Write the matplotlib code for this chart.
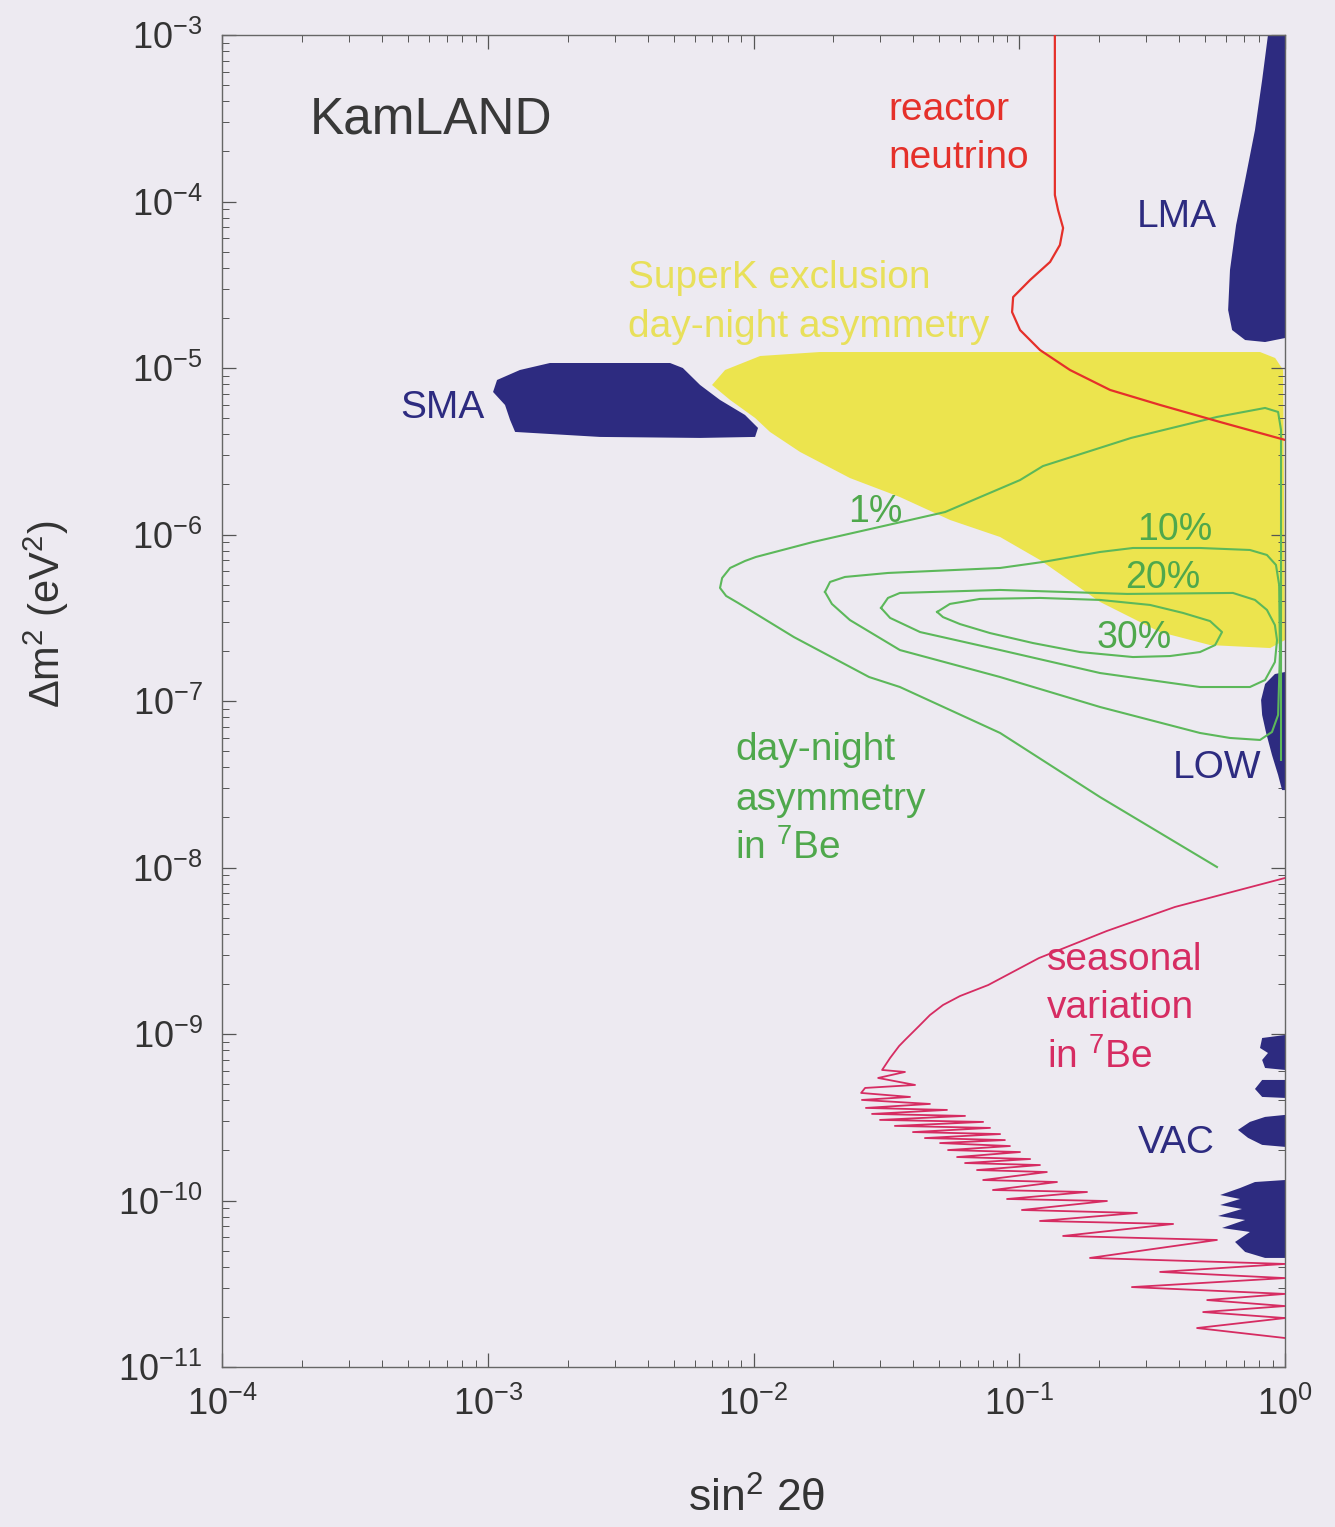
import numpy as np
import matplotlib
matplotlib.use('Agg')
import matplotlib.pyplot as plt
from matplotlib.ticker import LogLocator, FuncFormatter, NullFormatter

plt.rcParams['font.family'] = ['Liberation Sans', 'DejaVu Sans']
plt.rcParams['mathtext.default'] = 'regular'

# all region / curve values are log10(sin^2 2theta), log10(dm^2 / eV^2)
yellow_lx = [-2.156, -2.107, -1.975, -1.750, -0.094, -0.037, -0.007, 0.0, -0.056, -0.282, -0.470,
             -0.696, -0.922, -1.072, -1.260, -1.449, -1.637, -1.825, -1.938, -1.994, -2.088]
yellow_ly = [-5.102, -5.012, -4.928, -4.904, -4.904, -4.940, -5.012, -6.634, -6.682, -6.664, -6.586,
             -6.405, -6.153, -6.015, -5.913, -5.775, -5.661, -5.504, -5.384, -5.300, -5.192]

sma_lx = [-2.980, -2.965, -2.879, -2.766, -2.314, -2.266, -2.201, -2.126, -2.032, -1.983,
          -1.994, -2.201, -2.578, -2.897, -2.916, -2.935]
sma_ly = [-5.144, -5.072, -5.012, -4.970, -4.970, -5.000, -5.102, -5.192, -5.282, -5.360,
          -5.414, -5.420, -5.414, -5.384, -5.312, -5.222]

lma_lx = [-0.064, -0.086, -0.113, -0.150, -0.184, -0.207, -0.214, -0.199, -0.150, -0.075, 0.0, 0.0]
lma_ly = [-3.0, -3.270, -3.571, -3.871, -4.141, -4.411, -4.652, -4.772, -4.832, -4.844, -4.820, -3.0]

low_lx = [0.0, -0.038, -0.075, -0.090, -0.086, -0.071, -0.049, -0.026, -0.011, 0.0]
low_ly = [-6.826, -6.838, -6.898, -6.994, -7.084, -7.192, -7.324, -7.444, -7.535, -7.535]

vac_lx = [
    [0.0, -0.086, -0.094, -0.064, -0.086, -0.075, 0.0],
    [0.0, -0.086, -0.113, -0.086, 0.0],
    [0.0, -0.075, -0.132, -0.177, -0.139, -0.086, 0.0],
    [0.0, -0.113, -0.169, -0.244, -0.169, -0.244, -0.162, -0.252, -0.150, -0.237,
     -0.132, -0.188, -0.150, -0.075, 0.0],
]
vac_ly = [
    [-9.006, -9.024, -9.084, -9.114, -9.156, -9.204, -9.216],
    [-9.276, -9.276, -9.330, -9.378, -9.384],
    [-9.486, -9.498, -9.528, -9.576, -9.624, -9.666, -9.678],
    [-9.877, -9.889, -9.925, -9.967, -9.991, -10.027, -10.051, -10.093, -10.117, -10.165,
     -10.189, -10.249, -10.309, -10.345, -10.345],
]

# day-night asymmetry contours (1%, 10%, 20%, 30%)
dn1_lx = [-0.256, -0.696, -1.072, -1.449, -1.565, -1.848, -2.058, -2.103, -2.126, -2.118, -2.088,
          -2.032, -1.991, -1.776, -1.494, -1.279, -0.997, -0.911, -0.579, -0.256, -0.075, -0.026,
          -0.015, -0.015]
dn1_ly = [-7.997, -7.577, -7.192, -6.916, -6.856, -6.616, -6.411, -6.369, -6.321, -6.261, -6.201,
          -6.159, -6.135, -6.045, -5.943, -5.865, -5.673, -5.589, -5.420, -5.294, -5.240, -5.264,
          -5.372, -7.354]
dn10_lx = [-1.731, -1.712, -1.656, -1.494, -1.072, -0.911, -0.696, -0.572, -0.320, -0.132, -0.068,
           -0.034, -0.022, -0.019, -0.026, -0.049, -0.094, -0.207, -0.320, -0.696, -1.072, -1.449,
           -1.637, -1.705, -1.731]
dn10_ly = [-6.345, -6.285, -6.255, -6.231, -6.201, -6.165, -6.105, -6.081, -6.081, -6.093, -6.123,
           -6.183, -6.303, -6.712, -7.084, -7.186, -7.234, -7.222, -7.192, -7.036, -6.856, -6.694,
           -6.514, -6.417, -6.345]
dn20_lx = [-1.520, -1.494, -1.449, -1.072, -0.594, -0.196, -0.113, -0.068, -0.038, -0.030, -0.038,
           -0.075, -0.132, -0.320, -0.696, -1.072, -1.373, -1.486, -1.520]
dn20_ly = [-6.441, -6.381, -6.351, -6.333, -6.357, -6.351, -6.393, -6.453, -6.544, -6.634, -6.766,
           -6.874, -6.916, -6.916, -6.832, -6.694, -6.586, -6.501, -6.441]
dn30_lx = [-1.309, -1.261, -1.148, -0.922, -0.696, -0.508, -0.384, -0.282, -0.237, -0.263, -0.320,
           -0.433, -0.572, -0.771, -0.948, -1.110, -1.223, -1.287, -1.309]
dn30_ly = [-6.465, -6.417, -6.387, -6.381, -6.393, -6.423, -6.471, -6.520, -6.586, -6.664, -6.706,
           -6.730, -6.736, -6.706, -6.652, -6.592, -6.538, -6.496, -6.465]

reactor_lx = [-0.866, -0.866, -0.854, -0.835, -0.847, -0.884, -0.959, -1.023, -1.027, -0.997,
              -0.922, -0.809, -0.658, -0.470, -0.245, 0.0]
reactor_ly = [-3.0, -3.961, -4.051, -4.159, -4.261, -4.363, -4.471, -4.574, -4.664, -4.772,
              -4.892, -5.012, -5.132, -5.222, -5.324, -5.432]

seasonal_lx = [0.0, -0.414, -0.670, -0.926, -1.117, -1.223, -1.287, -1.336, -1.377, -1.430,
               -1.452, -1.486, -1.516, -1.430, -1.531, -1.392, -1.580, -1.595,
               -1.411, -1.592, -1.336, -1.577, -1.272, -1.554, -1.204, -1.524, -1.136, -1.468,
               -1.110, -1.400, -1.072, -1.355, -1.054, -1.298, -1.035, -1.268, -0.997, -1.234,
               -0.959, -1.204, -0.922, -1.159, -0.896, -1.136, -0.858, -1.099, -0.745, -1.046,
               -0.670, -0.990, -0.557, -0.922, -0.421, -0.835, -0.256, -0.734, 0.0, -0.470,
               0.0, -0.576, 0.0, -0.293, 0.0, -0.308, 0.0, -0.331, 0.0]
seasonal_ly = [-8.063, -8.237, -8.381, -8.544, -8.706, -8.772, -8.826, -8.886, -8.952, -9.036,
               -9.072, -9.144, -9.216, -9.228, -9.264, -9.306, -9.324, -9.354,
               -9.378, -9.396, -9.420, -9.444, -9.456, -9.480, -9.492, -9.516, -9.528, -9.552,
               -9.564, -9.589, -9.601, -9.625, -9.637, -9.655, -9.673, -9.697, -9.709, -9.739,
               -9.751, -9.775, -9.787, -9.817, -9.829, -9.877, -9.889, -9.937, -9.949, -9.991,
               -10.003, -10.057, -10.075, -10.123, -10.141, -10.213, -10.237, -10.345, -10.381, -10.429,
               -10.466, -10.520, -10.561, -10.598, -10.634, -10.670, -10.706, -10.766, -10.826]

bg = '#edeaf1'
navy = '#2d2b80'
yellow = '#ece44e'
green = '#5cb85a'
label_green = '#4fa84c'
red = '#e5302a'
crimson = '#d62c62'

def p10(a):
    return np.power(10.0, np.asarray(a))

fig = plt.figure(figsize=(13.35, 15.27), dpi=100)
fig.patch.set_facecolor(bg)
ax = fig.add_axes([222/1335, 1 - 1367/1527, 1063/1335, 1332/1527])
ax.set_facecolor(bg)
ax.set_xscale('log')
ax.set_yscale('log')
ax.set_xlim(1e-4, 1)
ax.set_ylim(1e-11, 1e-3)

ax.fill(p10(yellow_lx), p10(yellow_ly), color=yellow, lw=0, zorder=1)
ax.fill(p10(sma_lx), p10(sma_ly), color=navy, lw=0, zorder=2)
ax.fill(p10(lma_lx), p10(lma_ly), color=navy, lw=0, zorder=2)
ax.fill(p10(low_lx), p10(low_ly), color=navy, lw=0, zorder=2)
for bx, by in zip(vac_lx, vac_ly):
    ax.fill(p10(bx), p10(by), color=navy, lw=0, zorder=2)

for cx, cy in [(dn1_lx, dn1_ly), (dn10_lx, dn10_ly), (dn20_lx, dn20_ly), (dn30_lx, dn30_ly)]:
    ax.plot(p10(cx), p10(cy), color=green, lw=1.5, zorder=3, solid_joinstyle='round')

ax.plot(p10(reactor_lx), p10(reactor_ly), color=red, lw=1.6, zorder=4, solid_joinstyle='round')
ax.plot(p10(seasonal_lx), p10(seasonal_ly), color=crimson, lw=1.3, zorder=4)

# axes styling
for s in ax.spines.values():
    s.set_color('#666666')
    s.set_linewidth(1.0)
for a in (ax.xaxis, ax.yaxis):
    a.set_major_locator(LogLocator(base=10, numticks=20))
    a.set_minor_locator(LogLocator(base=10, subs=np.arange(2, 10), numticks=20))
    a.set_minor_formatter(NullFormatter())
    a.set_major_formatter(FuncFormatter(lambda v, pos: r'$10^{%d}$' % int(round(np.log10(v)))))
ax.tick_params(which='both', direction='in', top=True, right=True, color='#555555')
ax.tick_params(which='major', length=10, width=0.9, labelsize=26, labelcolor='#333333')
ax.tick_params(which='minor', length=5, width=0.7)
ax.tick_params(axis='x', pad=14)
ax.tick_params(axis='y', pad=14)

ax.set_xlabel(r'sin$^2$ 2$\theta$', fontsize=32, color='#333333')
ax.xaxis.set_label_coords(0.503, -0.083)
ax.set_ylabel(r'$\Delta$m$^2$ (eV$^2$)', fontsize=30, color='#333333')
ax.yaxis.set_label_coords(-0.142, 0.565)

T = ax.transAxes
ax.text(0.0828, 0.936, 'KamLAND', transform=T, fontsize=37, color='#383838', va='center', zorder=5)
ax.text(0.6265, 0.9437, 'reactor', transform=T, fontsize=28, color=red, va='center', zorder=5)
ax.text(0.6265, 0.9077, 'neutrino', transform=T, fontsize=28, color=red, va='center', zorder=5)
ax.text(0.8608, 0.8634, 'LMA', transform=T, fontsize=28, color=navy, va='center', zorder=5)
ax.text(0.3819, 0.8176, 'SuperK exclusion', transform=T, fontsize=28, color='#e8e05a', va='center', zorder=5)
ax.text(0.3819, 0.7808, 'day-night asymmetry', transform=T, fontsize=28, color='#e8e05a', va='center', zorder=5)
ax.text(0.1675, 0.7200, 'SMA', transform=T, fontsize=28, color=navy, va='center', zorder=5)
ax.text(0.5889, 0.6419, '1%', transform=T, fontsize=27, color=label_green, va='center', zorder=5)
ax.text(0.8608, 0.6284, '10%', transform=T, fontsize=27, color=label_green, va='center', zorder=5)
ax.text(0.8495, 0.5923, '20%', transform=T, fontsize=27, color=label_green, va='center', zorder=5)
ax.text(0.8231, 0.5473, '30%', transform=T, fontsize=27, color=label_green, va='center', zorder=5)
ax.text(0.4826, 0.4632, 'day-night', transform=T, fontsize=28, color=label_green, va='center', zorder=5)
ax.text(0.4826, 0.4257, 'asymmetry', transform=T, fontsize=28, color=label_green, va='center', zorder=5)
ax.text(0.4826, 0.3896, r'in $^7$Be', transform=T, fontsize=28, color=label_green, va='center', zorder=5)
ax.text(0.8946, 0.4497, 'LOW', transform=T, fontsize=28, color=navy, va='center', zorder=5)
ax.text(0.7761, 0.3056, 'seasonal', transform=T, fontsize=28, color=crimson, va='center', zorder=5)
ax.text(0.7761, 0.2695, 'variation', transform=T, fontsize=28, color=crimson, va='center', zorder=5)
ax.text(0.7761, 0.2327, r'in $^7$Be', transform=T, fontsize=28, color=crimson, va='center', zorder=5)
ax.text(0.8617, 0.1682, 'VAC', transform=T, fontsize=28, color=navy, va='center', zorder=5)

fig.savefig('out.png', dpi=100, facecolor=bg)
